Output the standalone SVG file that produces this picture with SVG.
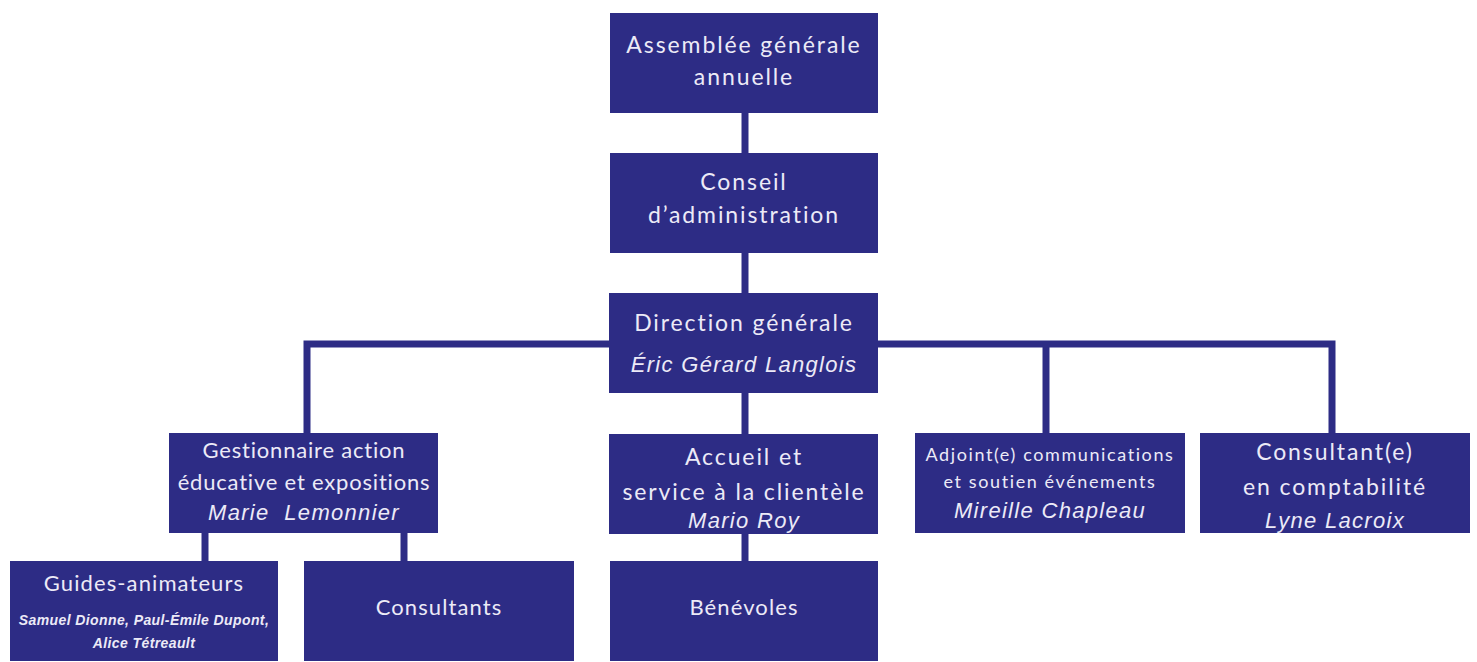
<svg xmlns="http://www.w3.org/2000/svg" width="1477" height="662" viewBox="0 0 1477 662">
<style>
.box{fill:#2d2c85}
.t{font-family:Lato,"Open Sans","Liberation Sans",sans-serif;fill:#eceaf7;text-anchor:middle}
.big{font-size:23px;letter-spacing:1.9px}
.mid{font-size:22px;letter-spacing:1.1px}
.sm{font-size:18px;letter-spacing:1.6px}
.n{font-family:"Liberation Sans",Arial,sans-serif;font-style:italic;fill:#eceaf7;text-anchor:middle;font-size:22px;letter-spacing:1.3px;white-space:pre}
.tiny{font-family:"Liberation Sans",Arial,sans-serif;font-style:italic;font-weight:bold;fill:#eceaf7;text-anchor:middle;font-size:14px;letter-spacing:0.4px}
.c{stroke:#2d2c85;stroke-width:7;fill:none}
</style>
<rect width="1477" height="662" fill="#ffffff"/>
<g id="connectors">
<line class="c" x1="745" y1="110" x2="745" y2="156"/>
<line class="c" x1="745" y1="250" x2="745" y2="296"/>
<polyline class="c" points="307,436 307,344 1332,344 1332,436"/>
<line class="c" x1="1046" y1="344" x2="1046" y2="436"/>
<line class="c" x1="745" y1="390" x2="745" y2="437"/>
<line class="c" x1="745" y1="530" x2="745" y2="564"/>
<line class="c" x1="205" y1="530" x2="205" y2="564"/>
<line class="c" x1="404" y1="530" x2="404" y2="564"/>
</g>
<g id="assemblee">
<rect class="box" x="610" y="13" width="268" height="100"/>
<text class="t big" x="744" y="53">Assemblée générale</text>
<text class="t big" x="744" y="85">annuelle</text>
</g>
<g id="conseil">
<rect class="box" x="610" y="153" width="268" height="100"/>
<text class="t big" x="744" y="190">Conseil</text>
<text class="t big" x="744" y="223">d’administration</text>
</g>
<g id="direction">
<rect class="box" x="609" y="293" width="269" height="100"/>
<text class="t big" x="744" y="331">Direction générale</text>
<text class="n" x="744" y="372">Éric Gérard Langlois</text>
</g>
<g id="gestionnaire">
<rect class="box" x="169" y="433" width="269" height="100"/>
<text class="t" font-size="22" letter-spacing="0.8" x="304" y="458">Gestionnaire action</text>
<text class="t" font-size="22" letter-spacing="0.8" x="304" y="490">éducative et expositions</text>
<text class="n" x="304" y="520">Marie  Lemonnier</text>
</g>
<g id="accueil">
<rect class="box" x="609" y="434" width="269" height="100"/>
<text class="t big" x="744" y="465">Accueil et</text>
<text class="t big" x="744" y="500">service à la clientèle</text>
<text class="n" x="744" y="528">Mario Roy</text>
</g>
<g id="adjoint">
<rect class="box" x="915" y="433" width="270" height="100"/>
<text class="t sm" x="1050" y="461">Adjoint(e) communications</text>
<text class="t sm" x="1050" y="488">et soutien événements</text>
<text class="n" x="1050" y="518">Mireille Chapleau</text>
</g>
<g id="consultante">
<rect class="box" x="1200" y="433" width="270" height="100"/>
<text class="t big" x="1335" y="460">Consultant(e)</text>
<text class="t big" x="1335" y="495">en comptabilité</text>
<text class="n" x="1335" y="528">Lyne Lacroix</text>
</g>
<g id="guides">
<rect class="box" x="10" y="561" width="268" height="100"/>
<text class="t mid" x="144" y="591">Guides-animateurs</text>
<text class="tiny" x="144" y="625">Samuel Dionne, Paul-Émile Dupont,</text>
<text class="tiny" x="144" y="648">Alice Tétreault</text>
</g>
<g id="consultants">
<rect class="box" x="304" y="561" width="270" height="100"/>
<text class="t mid" x="439" y="615">Consultants</text>
</g>
<g id="benevoles">
<rect class="box" x="610" y="561" width="268" height="100"/>
<text class="t mid" x="744" y="615">Bénévoles</text>
</g>
</svg>
